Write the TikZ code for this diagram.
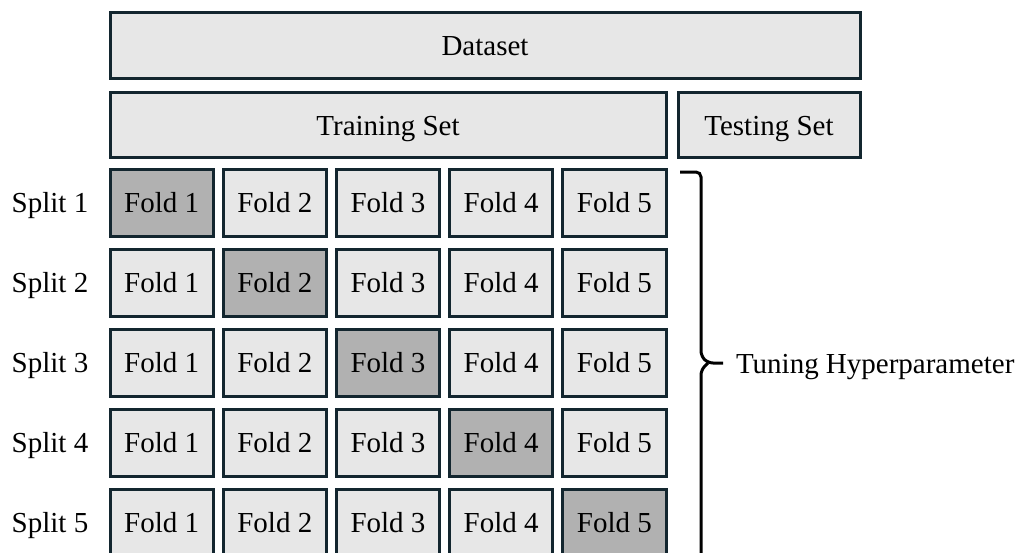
\documentclass[tikz,border=0pt]{standalone}
\usepackage{fontspec}
\setmainfont{Liberation Serif}
\definecolor{boxline}{HTML}{13262F}
\definecolor{boxfill}{HTML}{E7E7E7}
\definecolor{foldsel}{HTML}{B1B1B1}
\begin{document}
\begin{tikzpicture}[x=1pt,y=-1pt,
  every node/.style={font=\fontsize{29}{34}\selectfont, inner sep=0pt, outer sep=0pt, text height=20pt, text depth=0pt},
  block/.style={draw=boxline, line width=3pt, fill=boxfill, rectangle},
  fold/.style={block, minimum width=103.2pt, minimum height=67pt},
  testfold/.style={fold, fill=foldsel},
  splitlabel/.style={anchor=center},
  bracepath/.style={draw=black, line width=3pt, rounded corners=5pt}
]
\useasboundingbox (0,0) rectangle (1015,552);
\clip (0,0) rectangle (1015,552);

\node[block, minimum width=750pt, minimum height=66pt] (dataset) at (485,45) {Dataset};
\node[block, minimum width=556pt, minimum height=65pt] (train) at (388,125) {Training Set};
\node[block, minimum width=182pt, minimum height=65pt] (test) at (769,125) {Testing Set};

\foreach \r in {1,...,5}{
  \pgfmathsetmacro{\yc}{202.5+80*(\r-1)}
  \node[splitlabel] (split\r) at (50,\yc) {Split \r};
  \foreach \c in {1,...,5}{
    \pgfmathsetmacro{\xc}{161.6+113.2*(\c-1)}
    \ifnum\c=\r
      \node[testfold] (f\r\c) at (\xc,\yc) {Fold \c};
    \else
      \node[fold] (f\r\c) at (\xc,\yc) {Fold \c};
    \fi
  }
}

\coordinate (btop) at (680,172);
\coordinate (btip) at (723,363);
\coordinate (bbot) at (701,570);
\path[bracepath] (btop) -- (701,172) -- (701,356) -- (708,363) -- (btip);
\path[bracepath] (708,363) -- (701,370) -- (bbot);

\node[anchor=west] (tuning) at (736,363) {Tuning Hyperparameter};
\end{tikzpicture}
\end{document}
